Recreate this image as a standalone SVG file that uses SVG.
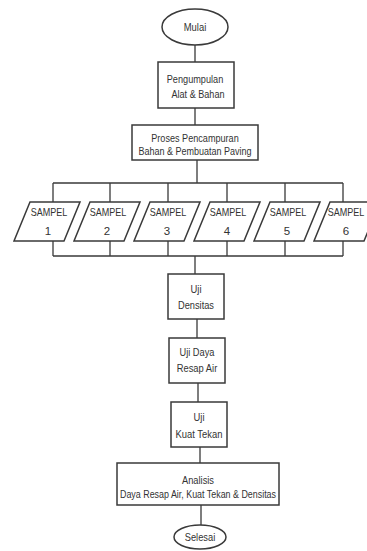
<svg xmlns="http://www.w3.org/2000/svg" width="367" height="551" viewBox="0 0 367 551">
<style>
.s{fill:#fff;stroke:#3a3a3a;stroke-width:1.5}
.c{fill:none;stroke:#3a3a3a;stroke-width:1.3}
text{font-family:"Liberation Sans",Arial,sans-serif;font-size:11.5px;fill:#333;text-anchor:middle}
</style>
<rect width="367" height="551" fill="#fff"/>
<g id="connectors">
<path class="c" d="M195 45V62M195 108V125M197 160V183M53 183H343M53 183V202M110 183V202M168 183V202M227 183V202M285 183V202M343 183V202"/>
<path class="c" d="M53 241V256M110 241V256M168 241V256M227 241V256M285 241V256M343 241V256M53 256H343M195 256V274"/>
<path class="c" d="M197 319V338M198 383V402M200 447V463M201 505V525"/>
</g>
<g id="mulai"><ellipse class="s" cx="195" cy="27" rx="33" ry="18"/><text x="195" y="31" textLength="22.5" lengthAdjust="spacingAndGlyphs">Mulai</text></g>
<g id="pengumpulan"><rect class="s" x="158" y="62" width="76" height="46"/><text x="195" y="83" textLength="56.5" lengthAdjust="spacingAndGlyphs">Pengumpulan</text><text x="198" y="98" textLength="53" lengthAdjust="spacingAndGlyphs">Alat &amp; Bahan</text></g>
<g id="proses"><rect class="s" x="132" y="125" width="126" height="35"/><text x="195" y="142" textLength="87.5" lengthAdjust="spacingAndGlyphs">Proses Pencampuran</text><text x="195" y="155" textLength="113" lengthAdjust="spacingAndGlyphs">Bahan &amp; Pembuatan Paving</text></g>
<g id="sampel1"><polygon class="s" points="30,202 80,202 64,241 14,241"/><text x="49" y="216" textLength="36.6" lengthAdjust="spacingAndGlyphs">SAMPEL</text><text x="48" y="235">1</text></g>
<g id="sampel2"><polygon class="s" points="90,202 140,202 124,241 74,241"/><text x="108" y="216" textLength="36.6" lengthAdjust="spacingAndGlyphs">SAMPEL</text><text x="107" y="235">2</text></g>
<g id="sampel3"><polygon class="s" points="150,202 200,202 184,241 134,241"/><text x="168" y="216" textLength="36.6" lengthAdjust="spacingAndGlyphs">SAMPEL</text><text x="167" y="235">3</text></g>
<g id="sampel4"><polygon class="s" points="210,202 260,202 244,241 194,241"/><text x="228" y="216" textLength="36.6" lengthAdjust="spacingAndGlyphs">SAMPEL</text><text x="227" y="235">4</text></g>
<g id="sampel5"><polygon class="s" points="270,202 320,202 304,241 254,241"/><text x="288" y="216" textLength="36.6" lengthAdjust="spacingAndGlyphs">SAMPEL</text><text x="287" y="235">5</text></g>
<g id="sampel6"><polygon class="s" points="330,202 380,202 364,241 314,241"/><text x="346" y="216" textLength="36.6" lengthAdjust="spacingAndGlyphs">SAMPEL</text><text x="346" y="235">6</text></g>
<g id="densitas"><rect class="s" x="168" y="274" width="56" height="45"/><text x="196" y="293" textLength="11" lengthAdjust="spacingAndGlyphs">Uji</text><text x="196" y="309" textLength="36" lengthAdjust="spacingAndGlyphs">Densitas</text></g>
<g id="dayaresap"><rect class="s" x="169" y="338" width="56" height="45"/><text x="197" y="356" textLength="35" lengthAdjust="spacingAndGlyphs">Uji Daya</text><text x="197" y="372" textLength="40.5" lengthAdjust="spacingAndGlyphs">Resap Air</text></g>
<g id="kuattekan"><rect class="s" x="171" y="402" width="56" height="45"/><text x="199" y="421" textLength="11" lengthAdjust="spacingAndGlyphs">Uji</text><text x="199" y="438" textLength="47" lengthAdjust="spacingAndGlyphs">Kuat Tekan</text></g>
<g id="analisis"><rect class="s" x="117" y="463" width="162" height="42"/><text x="198" y="484" textLength="32" lengthAdjust="spacingAndGlyphs">Analisis</text><text x="198" y="498" textLength="156" lengthAdjust="spacingAndGlyphs">Daya Resap Air, Kuat Tekan &amp; Densitas</text></g>
<g id="selesai"><ellipse class="s" cx="200" cy="537" rx="26" ry="12"/><text x="200" y="541" textLength="30.5" lengthAdjust="spacingAndGlyphs">Selesai</text></g>
</svg>
